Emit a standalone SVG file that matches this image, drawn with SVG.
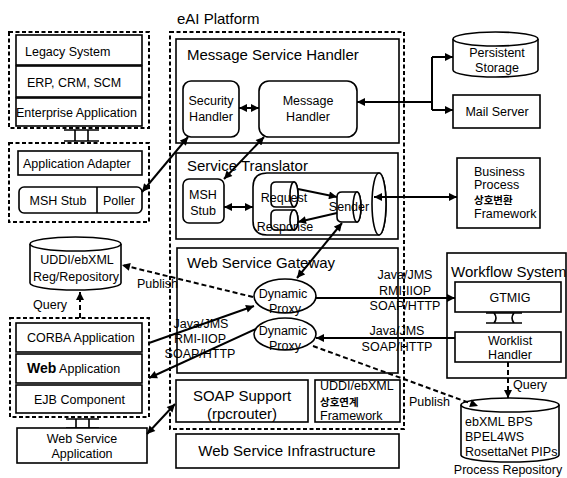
<svg xmlns="http://www.w3.org/2000/svg" width="567" height="478" viewBox="0 0 567 478">
<style>
text{font-family:"Liberation Sans",Arial,"Noto Sans CJK KR",sans-serif;font-size:12.5px;fill:#000}
.t{font-size:15px}
.c{text-anchor:middle}
.kr{font-family:"Noto Sans CJK KR","Liberation Sans",sans-serif;font-size:10.5px;font-weight:bold}
.box{fill:#fff;stroke:#000;stroke-width:1.6}
.dash{fill:none;stroke:#000;stroke-width:2;stroke-dasharray:4 2.5}
.ln{fill:none;stroke:#000;stroke-width:2}
.dl{fill:none;stroke:#000;stroke-width:2;stroke-dasharray:5 3}
.ib{fill:none;stroke:#000;stroke-width:1.6}
</style>
<defs>
<marker id="ah" viewBox="0 0 10 10" refX="10" refY="5" markerWidth="9" markerHeight="8" markerUnits="userSpaceOnUse" orient="auto-start-reverse"><path d="M0,0 L10,5 L0,10 z" fill="#000"/></marker>
</defs>
<rect width="567" height="478" fill="#fff"/>

<g id="eai">
<text x="177" y="24" class="t">eAI Platform</text>
<rect x="170" y="32" width="234" height="397" class="dash"/>
</g>

<g id="msh">
<rect x="176" y="39" width="223" height="104" class="box"/>
<text x="187" y="60" class="t">Message Service Handler</text>
</g>
<g id="security">
<rect x="183" y="81" width="56" height="56" rx="8" class="box"/>
<text x="211" y="105" class="c">Security</text>
<text x="211" y="121" class="c">Handler</text>
</g>
<g id="msghandler">
<rect x="259" y="81" width="98" height="56" rx="10" class="box"/>
<text x="308" y="105" class="c">Message</text>
<text x="308" y="121" class="c">Handler</text>
</g>

<g id="translator">
<rect x="176" y="153" width="222" height="86" class="box"/>
<text x="187" y="171" class="t">Service Translator</text>
</g>
<g id="mshstub2">
<rect x="183" y="179" width="41" height="44" rx="6" class="box"/>
<text x="203" y="199" class="c">MSH</text>
<text x="203" y="215" class="c">Stub</text>
</g>
<g id="queue">
<path d="M267,173 H379 A7,31 0 0 1 379,235 H267 Q253,235 253,221 V187 Q253,173 267,173 Z" class="box"/>
<ellipse cx="379" cy="204" rx="7" ry="31" class="box"/>
</g>
<g id="request">
<path d="M276,182 H294 A4,12.5 0 0 1 294,207 H276 Q271,207 271,202 V187 Q271,182 276,182 Z" class="box"/>
<ellipse cx="294" cy="194.5" rx="4" ry="12.5" class="box"/>
<text x="284" y="202" class="c">Request</text>
</g>
<g id="response">
<path d="M276,210 H294 A4,10 0 0 1 294,230 H276 Q271,230 271,225 V215 Q271,210 276,210 Z" class="box"/>
<ellipse cx="294" cy="220" rx="4" ry="10" class="box"/>
<text x="285" y="231" class="c">Response</text>
</g>
<g id="sender">
<path d="M342,192 H357 A4,15 0 0 1 357,222 H342 Q337,222 337,217 V197 Q337,192 342,192 Z" class="box"/>
<ellipse cx="357" cy="207" rx="4" ry="15" class="box"/>
<text x="349" y="211" class="c">Sender</text>
</g>

<g id="gateway">
<rect x="177" y="248" width="221" height="125" class="box"/>
<text x="187" y="268" class="t">Web Service Gateway</text>
</g>
<g id="proxy1">
<ellipse cx="285" cy="296" rx="31" ry="17" class="box"/>
<text x="283" y="298" class="c">Dynamic</text>
<text x="285" y="313" class="c">Proxy</text>
</g>
<g id="proxy2">
<ellipse cx="285" cy="334" rx="31" ry="16" class="box"/>
<text x="283" y="335" class="c">Dynamic</text>
<text x="285" y="350" class="c">Proxy</text>
</g>

<g id="soap">
<rect x="176" y="380" width="132" height="42" class="box"/>
<text x="242" y="401" class="t c">SOAP Support</text>
<text x="242" y="419" class="t c">(rpcrouter)</text>
</g>
<g id="uddifw">
<rect x="315" y="380" width="85" height="42" class="box"/>
<text x="320" y="390" font-size="11.5">UDDI/ebXML</text>
<text x="320" y="406" class="kr" font-size="10">상호연계</text>
<text x="320" y="420" font-size="11.5">Framework</text>
</g>
<g id="infra">
<rect x="176" y="434" width="223" height="34" class="box"/>
<text x="287" y="456" class="t c">Web Service Infrastructure</text>
</g>

<g id="storage">
<path d="M453,39 V70 A42.5,7 0 0 0 538,70 V39" class="box"/>
<ellipse cx="495.5" cy="39" rx="42.5" ry="7" class="box"/>
<text x="497" y="57" class="c">Persistent</text>
<text x="497" y="72" class="c">Storage</text>
</g>
<g id="mail">
<rect x="453" y="95" width="87" height="33" class="box"/>
<text x="497" y="116" class="c">Mail Server</text>
</g>
<g id="bpf">
<rect x="457" y="158" width="83" height="70" class="box"/>
<text x="474" y="176">Business</text>
<text x="474" y="189">Process</text>
<text x="474" y="204" class="kr">상호변환</text>
<text x="474" y="218">Framework</text>
</g>

<g id="workflow">
<rect x="447" y="253" width="119" height="125" class="box"/>
<text x="451" y="277" class="t">Workflow System</text>
</g>
<g id="gtmig">
<rect x="455" y="282" width="106" height="30" class="box"/>
<text x="510" y="302" class="c">GTMIG</text>
</g>
<g id="worklist">
<rect x="455" y="332" width="106" height="30" class="box"/>
<text x="510" y="345" class="c">Worklist</text>
<text x="510" y="359" class="c">Handler</text>
</g>
<g id="ibeam3">
<path d="M486,313 H522 M486,323 H522 M494,313 Q498,318 494,323 M514,313 Q510,318 514,323" class="ib"/>
</g>

<g id="procrepo">
<path d="M461,405 V455 A49,7 0 0 0 559,455 V405" class="box"/>
<ellipse cx="510" cy="405" rx="49" ry="7" class="box"/>
<text x="465" y="426">ebXML BPS</text>
<text x="465" y="441">BPEL4WS</text>
<text x="465" y="456">RosettaNet PIPs</text>
<text x="508" y="474" class="c">Process Repository</text>
</g>

<g id="legacygroup">
<rect x="9" y="32" width="140" height="96" class="dash"/>
</g>
<g id="legacy">
<rect x="16" y="35" width="126" height="30" class="box"/>
<text x="25" y="56">Legacy System</text>
</g>
<g id="erp">
<rect x="16" y="66" width="126" height="31" class="box"/>
<text x="27" y="87">ERP, CRM, SCM</text>
</g>
<g id="enterprise">
<rect x="16" y="98" width="126" height="28" class="box"/>
<text x="16" y="117" font-size="12.8">Enterprise Application</text>
</g>
<g id="ibeam1">
<path d="M64,130 H99 M64,141 H99 M75,130 V141 M88,130 V141" class="ib"/>
</g>

<g id="adaptergroup">
<rect x="9" y="143" width="140" height="79" class="dash"/>
</g>
<g id="adapter">
<rect x="18" y="151" width="124" height="24" class="box"/>
<text x="23" y="168">Application Adapter</text>
</g>
<g id="mshstub1">
<rect x="19" y="187" width="123" height="26" rx="5" class="box"/>
<text x="58" y="205" class="c">MSH Stub</text>
</g>
<g id="poller">
<line x1="97" y1="187" x2="97" y2="213" class="ib"/>
<text x="119" y="205" class="c">Poller</text>
</g>

<g id="uddi">
<path d="M30,244 V283 A45.5,7 0 0 0 121,283 V244" class="box"/>
<ellipse cx="75.5" cy="244" rx="45.5" ry="7" class="box"/>
<text x="77" y="264" class="c">UDDI/ebXML</text>
<text x="76" y="281" class="c">Reg/Repository</text>
</g>

<g id="corbagroup">
<rect x="10" y="318" width="139" height="99" class="dash"/>
</g>
<g id="corba">
<rect x="16" y="323" width="126" height="29" class="box"/>
<text x="27" y="342">CORBA Application</text>
</g>
<g id="webapp">
<rect x="16" y="354" width="126" height="29" class="box"/>
<text x="27" y="373"><tspan font-size="14" font-weight="bold">Web</tspan> Application</text>
</g>
<g id="ejb">
<rect x="16" y="385" width="126" height="28" class="box"/>
<text x="34" y="404">EJB Component</text>
</g>
<g id="ibeam2">
<path d="M66,419 H99 M66,428 H99 M76,419 V428 M89,419 V428" class="ib"/>
</g>
<g id="wsapp">
<rect x="17" y="428" width="130" height="35" class="box"/>
<text x="82" y="443" class="c">Web Service</text>
<text x="82" y="458" class="c">Application</text>
</g>

<g id="connectors">
<path d="M357,102 H432" class="ln" marker-start="url(#ah)"/>
<path d="M432,57 V110" class="ln"/>
<path d="M432,57 H453" class="ln" marker-end="url(#ah)"/>
<path d="M432,110 H453" class="ln" marker-end="url(#ah)"/>
<path d="M239,108 H259" class="ln" marker-start="url(#ah)" marker-end="url(#ah)"/>
<path d="M142,192 L188,137" class="ln" marker-start="url(#ah)" marker-end="url(#ah)"/>
<path d="M224,179 L264,137" class="ln" marker-start="url(#ah)" marker-end="url(#ah)"/>
<path d="M224,207 H253" class="ln" marker-start="url(#ah)" marker-end="url(#ah)"/>
<path d="M298,189 L337,197" class="ln" marker-end="url(#ah)"/>
<path d="M337,213 L298,222" class="ln" marker-end="url(#ah)"/>
<path d="M374,197 H457" class="ln" marker-start="url(#ah)" marker-end="url(#ah)"/>
<path d="M342,223 L297,278" class="ln" marker-start="url(#ah)" marker-end="url(#ah)"/>
<path d="M316,298 H455" class="ln" marker-end="url(#ah)"/>
<path d="M455,338 H316" class="ln" marker-end="url(#ah)"/>
<path d="M149,343 L254,306" class="ln" marker-end="url(#ah)"/>
<path d="M256,329 L149,378" class="ln" marker-end="url(#ah)"/>
<path d="M175,404 L147,434" class="ln" marker-start="url(#ah)" marker-end="url(#ah)"/>
<path d="M253,297 L122,265" class="dl" marker-end="url(#ah)"/>
<path d="M80,318 V292" class="dl" marker-end="url(#ah)"/>
<path d="M313,346 L478,406" class="dl" marker-end="url(#ah)"/>
<path d="M508,362 V398" class="dl" marker-end="url(#ah)"/>
<text x="137" y="288" font-size="12">Publish</text>
<text x="33" y="309" font-size="12">Query</text>
<text x="409" y="406" font-size="12">Publish</text>
<text x="513" y="389" font-size="12">Query</text>
<text x="405" y="279" class="c">Java/JMS</text>
<text x="405" y="295" class="c">RMI-IIOP</text>
<text x="405" y="310" class="c">SOAP/HTTP</text>
<text x="397" y="335" class="c">Java/JMS</text>
<text x="397" y="351" class="c">SOAP/HTTP</text>
<text x="201" y="328" class="c">Java/JMS</text>
<text x="200" y="343" class="c">RMI-IIOP</text>
<text x="200" y="358" class="c">SOAP/HTTP</text>
</g>
</svg>
